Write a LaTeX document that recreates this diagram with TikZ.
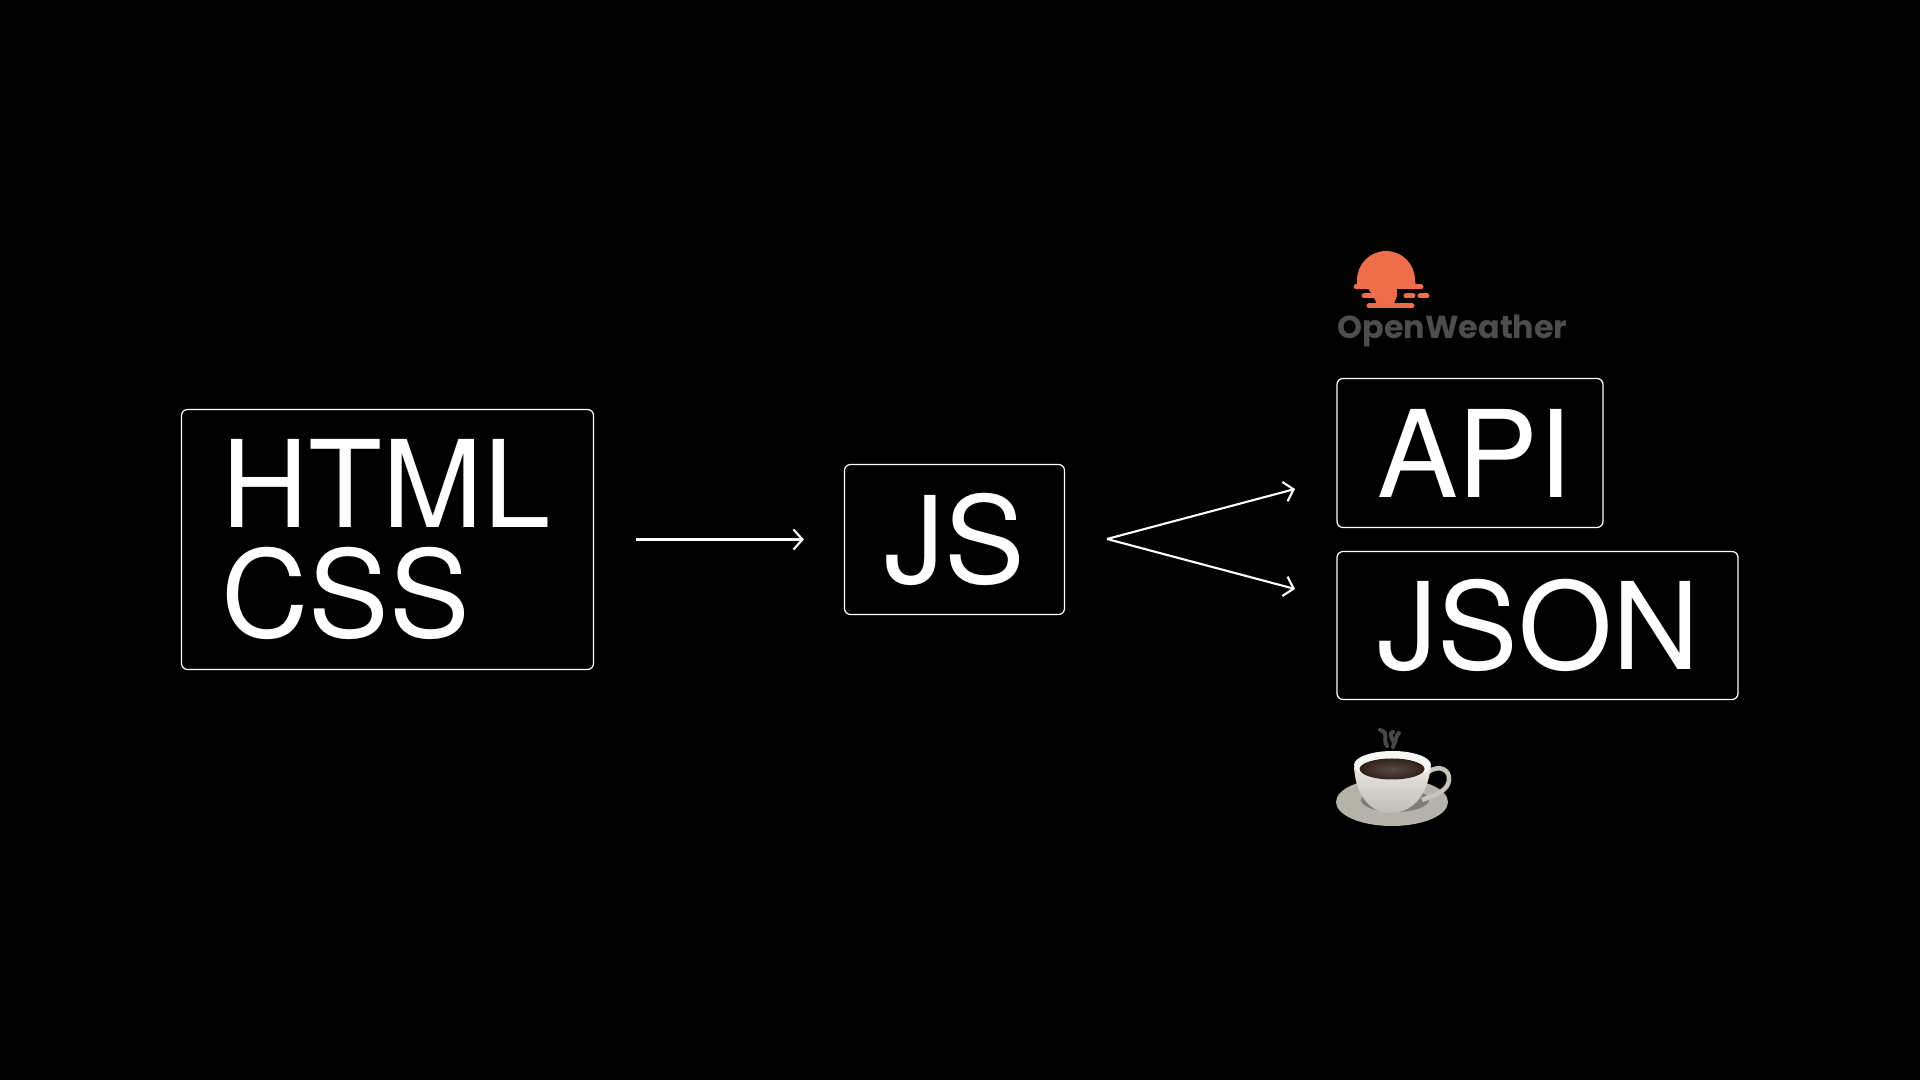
\documentclass[tikz,border=0pt]{standalone}
\usepackage{fontspec}
\setmainfont{TeX Gyre Heros}
\newfontfamily\logofont{Poppins}
\usetikzlibrary{arrows.meta, positioning}
\definecolor{sunorange}{HTML}{EE6E4C}
\definecolor{logogray}{HTML}{4D4D4D}
\definecolor{cupwhite}{HTML}{E9E7DF}
\definecolor{cupshade}{HTML}{B4B2A9}
\definecolor{coffeebrown}{HTML}{33201A}
\tikzset{
  techbox/.style={draw=white, line width=0.35pt, rounded corners=0.06cm, inner xsep=0.40cm, inner ysep=0pt, align=left, text=white, font=\fontsize{34.4}{31.3}\selectfont},
  flow/.style={draw=white, line width=0.6pt, -{Straight Barb[length=0.9mm, width=2mm]}},
  sunbar/.style={draw=sunorange, line width=0.05cm, line cap=round},
  steam/.style={draw=cupshade!40!black, line width=0.04cm, line cap=round}
}

\begin{document}
\begin{tikzpicture}
  \useasboundingbox[fill=black] (0,0) rectangle (19.2,10.8);
  \node[techbox, text width=3.32cm, minimum height=2.60cm] (markup) at (3.875,5.405) {HTML\\CSS};
  \node[techbox, text width=1.40cm, minimum height=1.50cm] (js) at (9.545,5.405) {JS};
  \node[techbox, text width=1.86cm, minimum height=1.49cm] (api) at (14.70,6.27) {API};
  \node[techbox, text width=3.21cm, minimum height=1.48cm] (json) at (15.375,4.545) {JSON};

  \draw[flow, shorten <=0.42cm, shorten >=0.40cm] (markup.east) -- (js.west);
  \coordinate (fork) at (11.07,5.41);
  \coordinate (apitip) at (12.95,5.91);
  \coordinate (jsontip) at (12.95,4.91);
  \draw[flow] (fork) -- (apitip);
  \draw[flow] (fork) -- (jsontip);

  % logo
  \fill[sunorange] (13.57,8.00) arc (180:0:0.29) -- (14.16,7.93) -- (13.97,7.93) -- (13.97,7.84) -- (13.93,7.74) -- (13.78,7.74) -- (13.73,7.84) -- (13.67,7.93) -- (13.57,7.93) -- cycle;
  \draw[sunbar] (13.56,7.93) -- (14.21,7.93);
  \draw[sunbar] (13.64,7.84) -- (13.94,7.84);
  \draw[sunbar] (14.06,7.84) -- (14.13,7.84);
  \draw[sunbar] (14.20,7.84) -- (14.27,7.84);
  \draw[sunbar] (13.69,7.74) -- (14.12,7.74);
  \node[anchor=base west, inner sep=0pt, text=logogray, font=\logofont\bfseries\fontsize{9.05}{12}\selectfont] (owm) at (13.37,7.41) {OpenWeather};

  % cup
  \fill[cupshade] (13.92,2.78) ellipse (0.56 and 0.24);
  \fill[cupshade!70!black] (13.95,2.80) ellipse (0.34 and 0.12);
  \draw[cupwhite!85!black, line width=0.045cm] (14.28,3.08) .. controls (14.40,3.16) and (14.50,3.10) .. (14.49,3.00) .. controls (14.48,2.90) and (14.38,2.86) .. (14.22,2.80);
  \shade[top color=cupwhite, bottom color=cupshade!85!white] (13.54,3.13) .. controls (13.56,2.80) and (13.74,2.67) .. (13.90,2.67) .. controls (14.10,2.67) and (14.26,2.80) .. (14.31,3.13) -- cycle;
  \fill[white!88!cupshade] (13.925,3.15) ellipse (0.385 and 0.14);
  \shade[inner color=coffeebrown!75!white!85!black, outer color=coffeebrown] (13.92,3.11) ellipse (0.325 and 0.105);
  \draw[steam] (13.80,3.50) .. controls (13.90,3.47) and (13.82,3.42) .. (13.87,3.34);
  \draw[steam] (13.93,3.48) .. controls (13.86,3.44) and (13.97,3.40) .. (13.93,3.33);
  \draw[steam] (13.99,3.47) .. controls (13.95,3.44) and (13.97,3.40) .. (13.94,3.36);
\end{tikzpicture}
\end{document}
